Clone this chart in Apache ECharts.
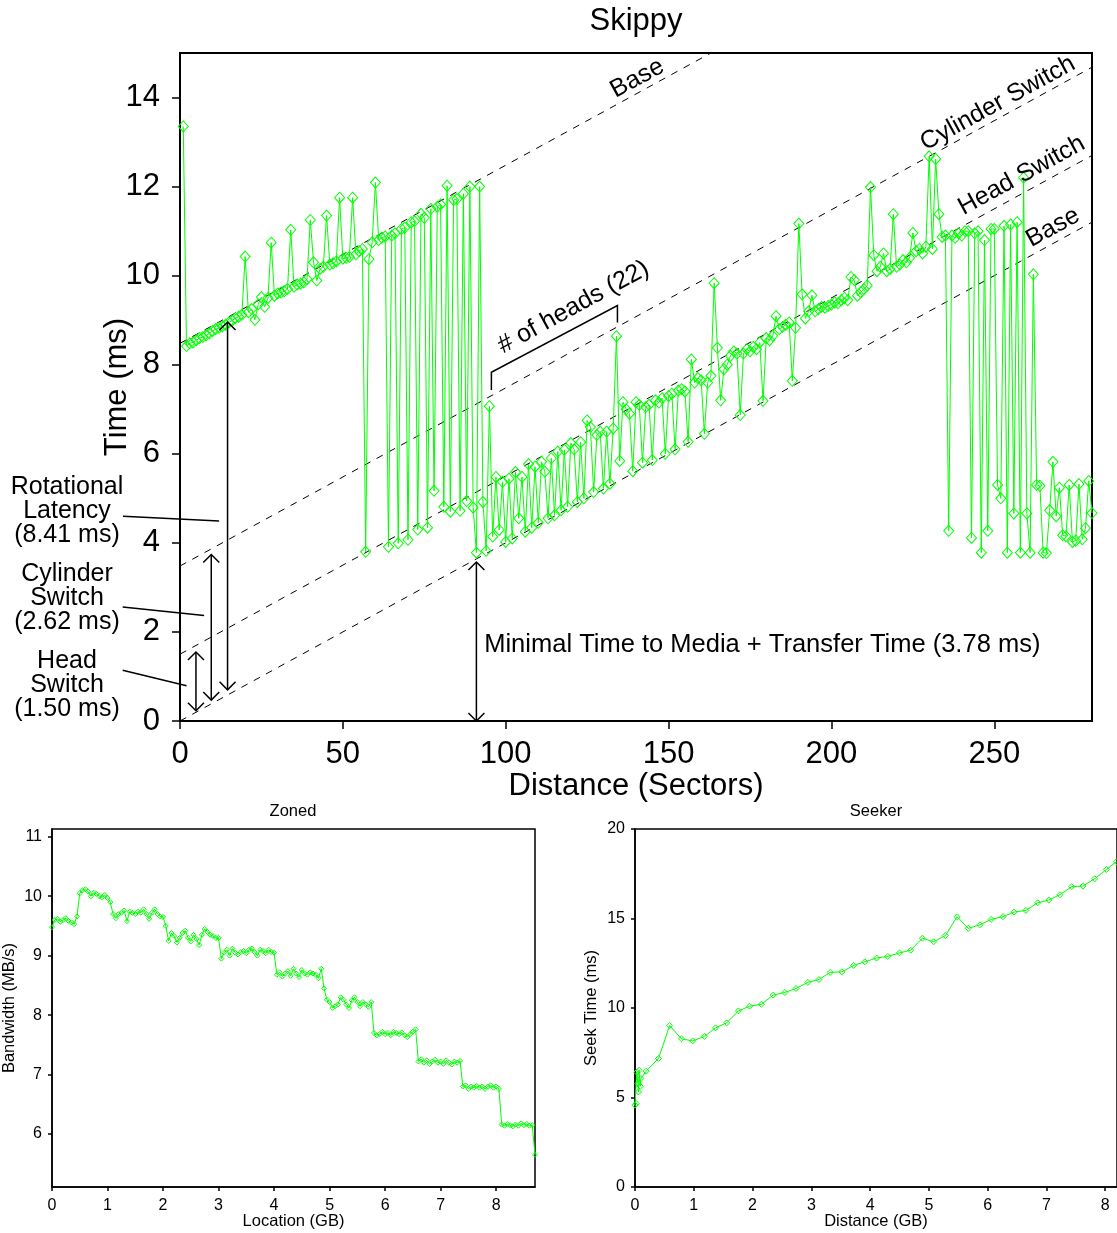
<!DOCTYPE html>
<html>
<head>
<meta charset="utf-8">
<title>Skippy / Zoned / Seeker</title>
<script src="https://cdn.jsdelivr.net/npm/echarts@6/dist/echarts.min.js"></script>
<style>
  html, body { margin: 0; padding: 0; background: #fff; }
  #chart { width: 1117px; height: 1233px; }
</style>
</head>
<body>
<div id="chart"></div>
<script>
const FONT = '"Liberation Sans", Arial, Helvetica, sans-serif';
const GREEN = '#00ff00';

// Skippy: one measurement per sector distance, starting at sector 1
const sectorStart = 1;
const skippyTime = [
  13.35,
  8.42, 8.48, 8.50, 8.55, 8.60, 8.62, 8.66, 8.70, 8.76, 8.80, 8.83, 8.86, 8.90, 8.95, 8.99, 9.05, 9.08, 9.12,
  10.43, 9.18, 9.25, 9.01, 9.35, 9.52, 9.30, 9.50, 10.74, 9.55, 9.60, 9.62, 9.65, 9.70, 11.03, 9.75, 9.80, 9.82,
  9.85, 9.92, 11.25, 10.30, 9.89, 10.15, 10.20, 11.35, 10.25, 10.28, 10.32, 11.75, 10.38, 10.40, 10.42, 11.75,
  10.48, 10.55, 10.60,
  3.80, 10.37, 10.75, 12.09, 10.80, 10.85, 10.88, 3.91, 10.90, 10.95, 3.99, 11.05, 11.08, 4.07, 11.20, 11.22,
  4.30, 11.39, 11.30, 4.34, 11.50, 5.17, 11.55, 11.60, 4.81, 12.02, 4.70, 11.70, 11.72, 4.72, 11.84, 4.94,
  12.00, 4.79, 3.78, 12.00, 4.92, 3.82, 7.07,
  4.14, 5.48, 4.29, 5.37, 4.02, 5.44, 4.10, 5.59, 4.55, 5.48, 4.25, 5.77, 4.34, 5.71, 4.45, 5.82, 5.60, 4.55,
  5.90, 4.62, 6.05, 4.73, 6.09, 4.81, 6.24, 6.10, 4.92, 6.26, 5.00, 6.75, 6.60, 5.14, 6.42, 6.50, 5.22, 6.50,
  5.33, 6.57, 8.64, 5.84, 7.16, 7.00, 6.90, 5.61,
  7.16, 7.10, 5.80, 7.05, 7.10, 5.86, 7.20, 7.15, 7.25, 6.00, 7.30, 7.35, 6.10, 7.42, 7.45, 7.40, 6.27, 8.12,
  7.60, 7.70, 7.65, 6.45, 7.60, 7.75, 9.83, 8.38, 7.20, 7.90, 8.00, 8.20, 8.30, 8.25, 6.87, 8.25, 8.35, 8.30,
  8.40, 8.35, 8.50, 7.19, 8.60, 8.55, 8.65, 9.09, 8.80, 8.85, 8.90, 8.95, 7.64, 8.83,
  11.17, 9.58, 9.04, 9.20, 9.56, 9.20, 9.25, 9.30, 9.28, 9.32, 9.35, 9.40, 9.38, 9.45, 9.50, 9.45, 9.97, 9.90,
  9.55, 9.63, 9.70, 9.78, 11.99, 10.46, 10.10, 10.20, 10.50, 10.10, 10.15, 11.38, 10.20, 10.25, 10.35, 10.30,
  10.40, 10.96, 10.55, 10.60, 10.50, 10.65, 12.68, 10.60, 12.62, 11.38, 10.87, 10.90,
  4.27, 10.90, 10.85, 10.95, 10.90, 11.00, 11.00, 4.11, 10.95, 11.00, 3.78, 10.80, 4.27, 11.05, 11.05, 5.30,
  5.00, 11.12, 3.78, 11.15, 4.66, 11.20, 3.78, 12.20, 4.66, 3.78, 10.03, 5.30, 5.28, 3.78, 3.77, 4.73, 5.82,
  4.60, 5.24, 4.17, 4.15, 5.30, 4.02, 4.05, 5.32, 4.08, 4.33, 5.39, 4.67
];

// dashed model lines, time at sector 0 and at sector 280
const refLineSectors = [0, 280];
const refLineStart = [8.48, 3.48, 1.5, 0];
const refLineEnd = [19.68, 14.68, 12.7, 11.2];

// Zoned: bandwidth sampled every 0.05 GB
const zonedStep = 0.05;
const zonedBandwidth = [
  9.48, 9.60, 9.62, 9.57, 9.60, 9.63, 9.58, 9.56, 9.53, 9.66,
  10.05, 10.10, 10.12, 10.08, 10.00, 10.06, 10.04, 10.00, 9.98, 10.02, 9.97,
  9.90,
  9.70, 9.63, 9.70, 9.72, 9.76, 9.58, 9.74, 9.72, 9.70, 9.74, 9.72, 9.78, 9.70, 9.62, 9.72, 9.78, 9.70, 9.66, 9.65,
  9.50,
  9.25, 9.38, 9.33, 9.22, 9.30, 9.38, 9.42, 9.30, 9.24, 9.35, 9.28, 9.18, 9.35, 9.45, 9.40, 9.35, 9.33, 9.30, 9.30,
  8.95, 9.05, 9.10, 9.00, 9.12, 9.05, 9.02, 9.06, 9.08, 9.04, 9.10, 9.12, 9.06, 9.00, 9.10, 9.08, 9.04, 9.10, 9.06, 9.05,
  8.68, 8.72, 8.65, 8.70, 8.74, 8.66, 8.78, 8.70, 8.64, 8.76, 8.70, 8.68, 8.72, 8.70, 8.68, 8.62, 8.78,
  8.45,
  8.26, 8.22, 8.12, 8.15, 8.18, 8.30, 8.26, 8.18, 8.12, 8.25, 8.30, 8.22, 8.15, 8.22, 8.18, 8.14, 8.22,
  7.70, 7.66, 7.68, 7.72, 7.68, 7.70, 7.66, 7.72, 7.70, 7.68, 7.71, 7.66, 7.63, 7.68, 7.72, 7.76,
  7.22, 7.26, 7.20, 7.24, 7.18, 7.22, 7.25, 7.20, 7.22, 7.18, 7.24, 7.20, 7.17, 7.22, 7.20, 7.23,
  6.80, 6.82, 6.76, 6.80, 6.78, 6.81, 6.78, 6.80, 6.76, 6.80, 6.82, 6.78, 6.80, 6.76,
  6.16, 6.14, 6.17, 6.15, 6.13, 6.16, 6.14, 6.18, 6.15, 6.17, 6.14, 6.15,
  5.65
];

// Seeker
const seekDistance = [
  0, 0.02, 0.03, 0.05, 0.06, 0.07, 0.09, 0.10, 0.19, 0.40, 0.59, 0.79, 0.98, 1.18, 1.37, 1.56, 1.76,
  1.95, 2.15, 2.35, 2.55, 2.74, 2.94, 3.13, 3.32, 3.52, 3.72, 3.91, 4.11, 4.30, 4.50, 4.69, 4.89, 5.08,
  5.28, 5.48, 5.67, 5.87, 6.06, 6.26, 6.45, 6.65, 6.85, 7.04, 7.23, 7.43, 7.62, 7.82, 8.02, 8.19
];
const seekTime = [
  4.57, 4.66, 6.41, 5.78, 5.31, 6.52, 5.63, 6.06, 6.47, 7.18, 9.02, 8.28, 8.16, 8.41, 8.89, 9.17, 9.84,
  10.10, 10.21, 10.72, 10.87, 11.09, 11.43, 11.59, 11.99, 12.02, 12.38, 12.58, 12.79, 12.88, 13.08, 13.23, 13.90, 13.70,
  14.05, 15.10, 14.45, 14.65, 14.95, 15.10, 15.36, 15.45, 15.88, 16.03, 16.33, 16.78, 16.81, 17.22, 17.74, 18.17
];

function valueAxis(grid, o) {
  return Object.assign({
    gridIndex: grid,
    type: 'value',
    nameLocation: 'middle',
    nameMoveOverlap: false,
    axisLine: { show: true, lineStyle: { color: '#000', width: o.big ? 2 : 1.5 } },
    axisTick: { show: true, inside: false, length: o.big ? 8 : 4, lineStyle: { color: '#000', width: 1.5 } },
    axisLabel: { color: '#000', fontSize: o.big ? 31 : 16, fontFamily: FONT, margin: o.margin, showMaxLabel: !!o.maxLabel },
    splitLine: { show: false },
    nameTextStyle: { color: '#000', fontSize: o.big ? 31 : 16.5, fontFamily: FONT }
  }, o.rest);
}

const option = {
  animation: false,
  backgroundColor: '#fff',
  textStyle: { fontFamily: FONT },
  grid: [
    { left: 180, top: 53, width: 912, height: 668, show: true, borderColor: '#000', borderWidth: 2 },
    { left: 52, top: 829, width: 483, height: 358, show: true, borderColor: '#000', borderWidth: 1.5 },
    { left: 635, top: 829, width: 484, height: 358, show: true, borderColor: '#000', borderWidth: 1.5 }
  ],
  xAxis: [
    valueAxis(0, { big: true, margin: 18, rest: { min: 0, max: 280, interval: 50, name: 'Distance (Sectors)', nameGap: 50 } }),
    valueAxis(1, { margin: 11, rest: { min: 0, max: 8.7, interval: 1, name: 'Location (GB)', nameGap: 26 } }),
    valueAxis(2, { margin: 11, rest: { min: 0, max: 8.2, interval: 1, name: 'Distance (GB)', nameGap: 26 } })
  ],
  yAxis: [
    valueAxis(0, { big: true, margin: 20, rest: { min: 0, max: 15, interval: 2, name: 'Time (ms)', nameGap: 47 } }),
    valueAxis(1, { margin: 10, rest: { min: 5.11, max: 11.13, splitNumber: 6, name: 'Bandwidth (MB/s)', nameGap: 34 } }),
    valueAxis(2, { margin: 10, maxLabel: true, rest: { min: 0, max: 20, interval: 5, name: 'Seek Time (ms)', nameGap: 35 } })
  ],
  series: []
};
option.yAxis[1].axisLabel.showMinLabel = false;

refLineStart.forEach((b, i) => {
  option.series.push({
    type: 'line', xAxisIndex: 0, yAxisIndex: 0, clip: true, silent: true,
    data: [[refLineSectors[0], b], [refLineSectors[1], refLineEnd[i]]],
    symbol: 'none',
    lineStyle: { color: '#000', width: 1, type: [7, 7] },
    z: 2
  });
});

function greenLine(xi, data, size) {
  return {
    type: 'line', xAxisIndex: xi, yAxisIndex: xi, data: data,
    symbol: 'diamond', symbolSize: size, showAllSymbol: true,
    lineStyle: { color: GREEN, width: 1 },
    itemStyle: { color: 'rgba(0,0,0,0)', borderColor: GREEN, borderWidth: 1 },
    emphasis: { disabled: true },
    z: 3
  };
}
option.series.push(greenLine(0, skippyTime.map((t, i) => [sectorStart + i, t]), [10, 11]));
option.series.push(greenLine(1, zonedBandwidth.map((b, i) => [i * zonedStep, b]), 5));
option.series.push(greenLine(2, seekDistance.map((d, i) => [d, seekTime[i]]), 6));

const chart = echarts.init(document.getElementById('chart'));
chart.setOption(option);

// annotations, placed in Skippy data coordinates (sector, ms)
const px = (s, t) => chart.convertToPixel({ gridIndex: 0 }, [s, t]);
const g = [];

function seg(a, b) {
  g.push({ type: 'line', z: 10, shape: { x1: a[0], y1: a[1], x2: b[0], y2: b[1] },
    style: { stroke: '#000', lineWidth: 1.5 } });
}
function poly(points) {
  g.push({ type: 'polyline', z: 10, shape: { points: points },
    style: { stroke: '#000', lineWidth: 1.5, fill: null } });
}
function label(str, p, size, align, rot) {
  g.push({
    type: 'text', x: p[0], y: p[1], rotation: rot || 0, z: 10,
    style: {
      text: str, fill: '#000', font: size + 'px ' + FONT,
      textAlign: align || 'center', textVerticalAlign: 'middle',
      align: align || 'center', verticalAlign: 'middle',
      lineHeight: Math.round(size * 0.94)
    }
  });
}
function arrow(s, t0, t1) {
  const a = px(s, t0), b = px(s, t1), h = 8;
  seg(a, b);
  poly([[b[0] - h, b[1] + h], b, [b[0] + h, b[1] + h]]);
  poly([[a[0] - h, a[1] - h], a, [a[0] + h, a[1] - h]]);
}

// titles
label('Skippy', [636, 21], 31);
label('Zoned', [293, 811], 16.5);
label('Seeker', [876, 811], 16.5);

// double arrows
arrow(4.9, 0.23, 1.55);
arrow(9.6, 0.47, 3.74);
arrow(14.6, 0.70, 8.96);
arrow(91.0, 0.0, 3.57);

// leader lines from the left-hand labels
seg(px(-17.5, 4.60), px(12.0, 4.49));
seg(px(-17.6, 2.56), px(7.4, 2.37));
seg(px(-17.6, 1.14), px(2.0, 0.79));

label('Rotational\nLatency\n(8.41 ms)', px(-34.7, 4.71), 25);
label('Cylinder\nSwitch\n(2.62 ms)', px(-34.7, 2.76), 25);
label('Head\nSwitch\n(1.50 ms)', px(-34.7, 0.81), 25);
label('Minimal Time to Media + Transfer Time (3.78 ms)', px(93.4, 1.71), 25.5, 'left');

// bracket for the number of heads
poly([px(95.6, 7.43), px(95.6, 7.83), px(134.3, 9.33), px(134.3, 8.95)]);

// labels along the dashed lines
const p0 = px(0, 0), p1 = px(100, 4);
const ang = Math.atan2(p0[1] - p1[1], p1[0] - p0[0]);
label('Base', px(140.4, 14.43), 25, 'center', ang);
label('Cylinder Switch', px(251.1, 13.87), 25, 'center', ang);
label('Head Switch', px(258.4, 12.25), 25, 'center', ang);
label('Base', px(268.0, 11.08), 25, 'center', ang);
label('# of heads (22)', px(120.8, 9.29), 25, 'center', ang);

chart.setOption({ graphic: { elements: g } });
</script>
</body>
</html>
